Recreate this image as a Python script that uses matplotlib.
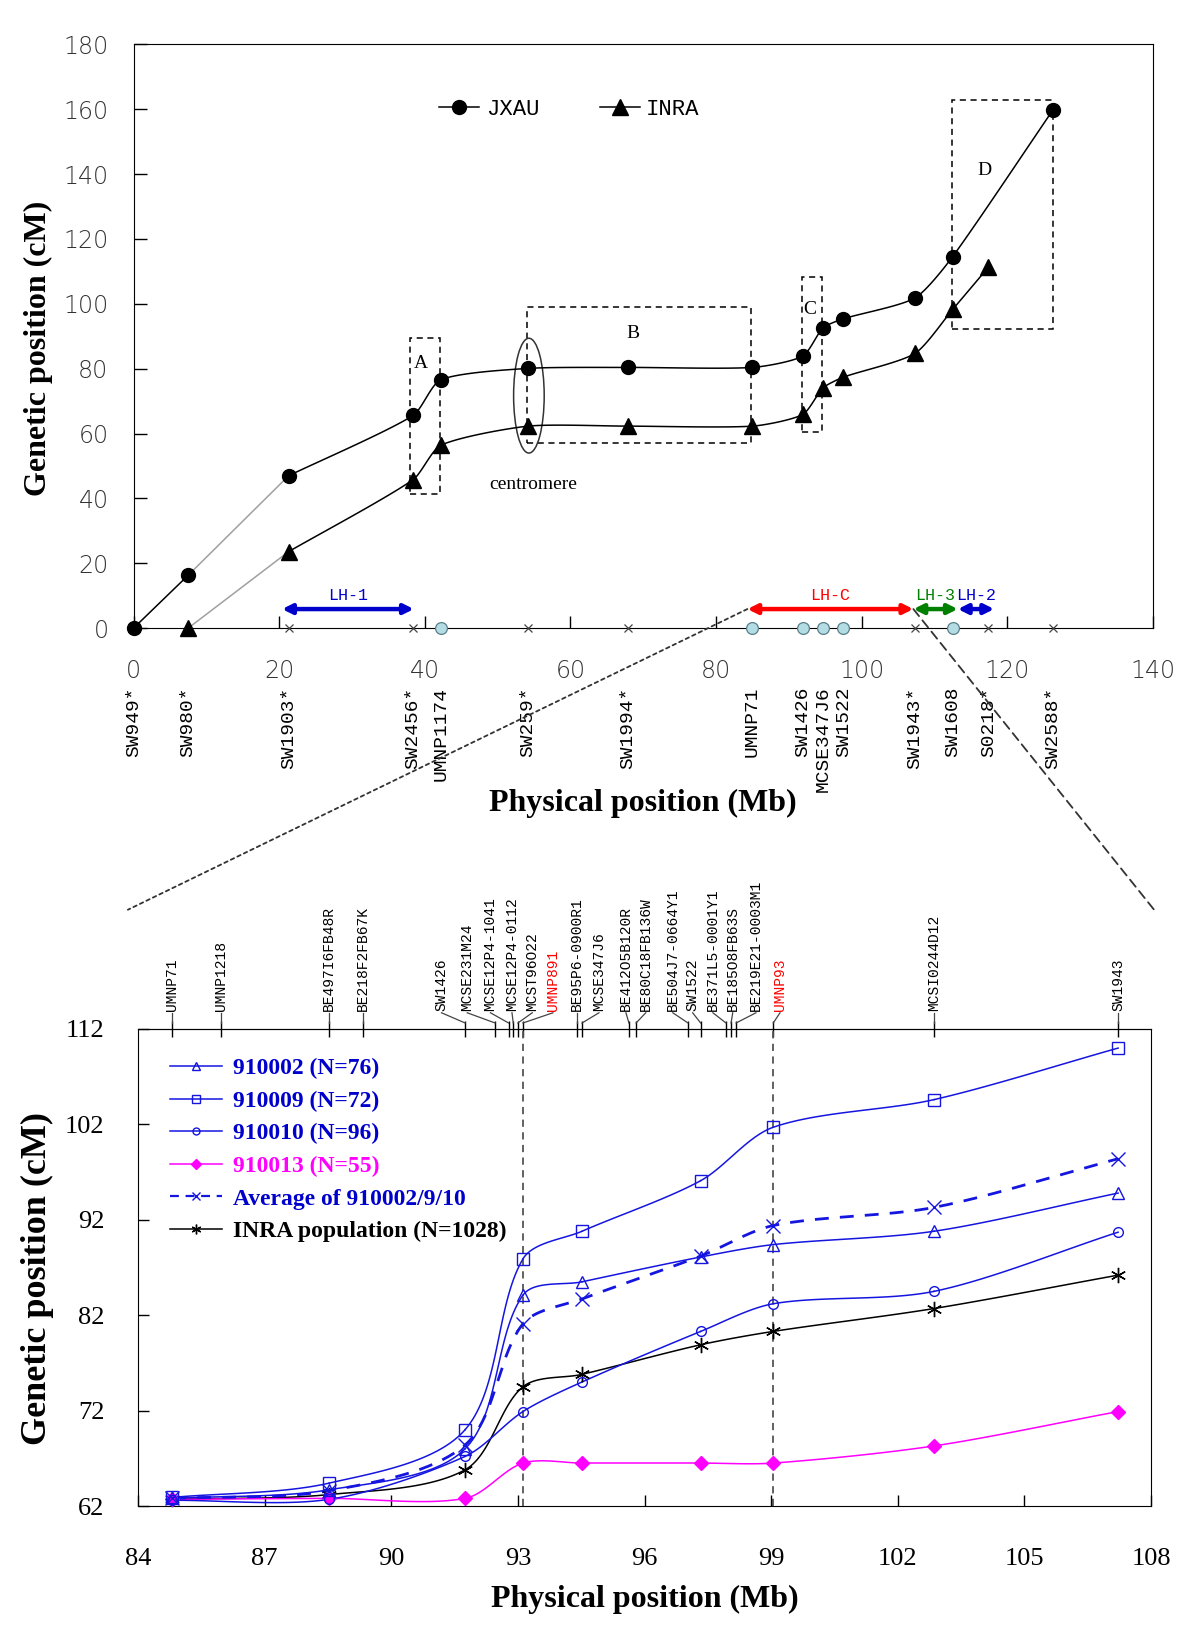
import numpy as np
import matplotlib
matplotlib.use("Agg")
import matplotlib.pyplot as plt
from matplotlib.patches import Rectangle, Ellipse, ConnectionPatch
from matplotlib.lines import Line2D
import matplotlib.transforms as mtransforms

# ------------------------- data: top chart -------------------------
top_markers = ["SW949*", "SW980*", "SW1903*", "SW2456*", "UMNP1174", "SW259*", "SW1994*",
               "UMNP71", "SW1426", "MCSE347J6", "SW1522", "SW1943*", "SW1608", "S0218*", "SW2588*"]
top_phys = [0.0, 7.5, 21.3, 38.4, 42.2, 54.2, 67.9, 85.0, 91.9, 94.7, 97.5, 107.3, 112.5, 117.4, 126.3]
jxau_cm = [0.0, 16.3, 47.0, 65.6, 76.6, 80.1, 80.4, 80.4, 83.9, 92.6, 95.4, 101.8, 114.6, None, 159.9]
inra_cm = [None, 0.0, 23.6, 45.8, 56.4, 62.3, 62.3, 62.3, 65.9, 74.1, 77.4, 84.7, 98.3, 111.3, None]

boxes = {"A": (38.0, 41.4, 42.15, 89.5), "B": (54.07, 57.0, 84.76, 98.9),
         "C": (91.77, 60.6, 94.58, 108.3), "D": (112.4, 92.2, 126.3, 163.0)}
box_labels = {"A": (39.5, 81.6), "B": (68.6, 90.9), "C": (92.8, 98.3), "D": (116.8, 141.0)}

lh_names = ["LH-1", "LH-C", "LH-3", "LH-2"]
lh_start = [20.4, 84.3, 107.1, 113.2]
lh_end = [38.5, 107.1, 113.2, 118.2]
lh_colors = ["#0000cc", "#ff0000", "#008000", "#0000cc"]

# ------------------------- data: bottom chart -------------------------
zoom_markers = ["UMNP71", "UMNP1218", "BE497I6FB48R", "BE218F2FB67K", "SW1426", "MCSE231M24",
                "MCSE12P4-1041", "MCSE12P4-0112", "MCST96O22", "UMNP891", "BE95P6-0900R1",
                "MCSE347J6", "BE412O5B120R", "BE80C18FB136W", "BE504J7-0664Y1", "SW1522",
                "BE371L5-0001Y1", "BE185O8FB63S", "BE219E21-0003M1", "UMNP93", "MCSI0244D12", "SW1943"]
zoom_phys = [84.81, 85.96, 88.53, 89.32, 91.75, 92.46, 92.78, 92.89, 93.00, 93.12, 94.40, 94.52,
             95.63, 95.80, 97.03, 97.33, 97.93, 98.05, 98.17, 99.05, 102.86, 107.22]
zoom_label_x = [84.81, 85.96, 88.53, 89.32, 91.19, 91.80, 92.35, 92.86, 93.34, 93.83, 94.40, 94.92,
                95.56, 96.03, 96.67, 97.14, 97.62, 98.09, 98.64, 99.21, 102.86, 107.22]
red_markers = ["UMNP891", "UMNP93"]

pts_phys = [84.81, 88.53, 91.75, 93.12, 94.52, 97.33, 99.05, 102.86, 107.22]
s910002 = [62.8, 63.7, 68.0, 84.1, 85.5, 88.1, 89.4, 90.8, 94.8]
s910009 = [62.9, 64.4, 70.0, 87.9, 90.8, 96.1, 101.7, 104.6, 110.0]
s910010 = [62.6, 62.7, 67.2, 71.9, 75.0, 80.3, 83.2, 84.5, 90.7]
s910013 = [62.7, 62.8, 62.8, 66.5, 66.5, 66.5, 66.5, 68.3, 71.9]
s_avg = [62.8, 63.6, 68.4, 81.1, 83.7, 88.2, 91.4, 93.3, 98.4]
s_inra = [62.7, 63.2, 65.8, 74.5, 75.8, 78.9, 80.3, 82.7, 86.2]
series_names = ["910002 (N=76)", "910009 (N=72)", "910010 (N=96)", "910013 (N=55)",
                "Average of 910002/9/10", "INRA population (N=1028)"]

top_xticks = [0, 20, 40, 60, 80, 100, 120, 140]
top_yticks = [0, 20, 40, 60, 80, 100, 120, 140, 160, 180]
bot_xticks = [84, 87, 90, 93, 96, 99, 102, 105, 108]
bot_yticks = [62, 72, 82, 92, 102, 112]


def smooth_segments(ax, xs, ys, tension, n=40):
    """Excel-like smoothing computed in screen space; returns one curve per segment."""
    P = ax.transData.transform(np.column_stack([xs, ys]).astype(float))
    inv = ax.transData.inverted()
    t = np.linspace(0, 1, n)[:, None]
    segs = []
    for i in range(len(P) - 1):
        p1, p2 = P[i], P[i + 1]
        L = np.hypot(*(p2 - p1))
        d1 = (P[i + 1] - P[i - 1]) if i > 0 else (p2 - p1)
        d2 = (P[i + 2] - P[i]) if i + 2 < len(P) else (p2 - p1)
        d1 = d1 / max(np.hypot(*d1), 1e-9)
        d2 = d2 / max(np.hypot(*d2), 1e-9)
        c1 = p1 + d1 * L * tension
        c2 = p2 - d2 * L * tension
        B = (1 - t) ** 3 * p1 + 3 * (1 - t) ** 2 * t * c1 + 3 * (1 - t) * t ** 2 * c2 + t ** 3 * p2
        segs.append(inv.transform(B))
    return segs


SERIF = ["Liberation Serif", "DejaVu Serif"]
MONO = ["Liberation Mono", "DejaVu Sans Mono"]

fig = plt.figure(figsize=(12, 16.25), dpi=100)
ax1 = fig.add_axes([0.11125, 0.61342, 0.84955, 0.35926])
ax2 = fig.add_axes([0.1150, 0.07323, 0.8442, 0.29354])

# =========================== TOP CHART ===========================
ax1.set_xlim(0, 140)
ax1.set_ylim(0, 180)

def plot_top(vals, marker, gray_segs, n_straight):
    xs = [p for p, v in zip(top_phys, vals) if v is not None]
    ys = [v for v in vals if v is not None]
    for i in range(n_straight):
        ax1.plot(xs[i:i + 2], ys[i:i + 2], color="#a0a0a0" if i in gray_segs else "black",
                 lw=1.1, zorder=3)
    segs = smooth_segments(ax1, xs[n_straight:], ys[n_straight:], 0.22)
    for s in segs:
        ax1.plot(s[:, 0], s[:, 1], color="black", lw=1.1, zorder=3)
    ax1.plot(xs, ys, ls="none", marker=marker, ms=10 if marker == "o" else 11, color="black",
             zorder=5, clip_on=False)

plot_top(jxau_cm, "o", {1}, 2)
plot_top(inra_cm, "^", {0}, 1)

# axis markers
for name, p in zip(top_markers, top_phys):
    if name in ("SW949*", "SW980*"):
        continue
    if name.endswith("*"):
        ax1.plot([p], [0], marker="x", ms=6, mew=0.9, color="#444444", ls="none", zorder=4, clip_on=False)
    else:
        ax1.plot([p], [0], marker="o", ms=8.5, mfc="#b4dce4", mec="#5a7f88", mew=0.9, ls="none",
                 zorder=4, clip_on=False)

# boxes
for k, (x0, y0, x1, y1) in boxes.items():
    ax1.add_patch(Rectangle((x0, y0), x1 - x0, y1 - y0, fill=False, ls=(0, (4, 3)), lw=1.1,
                            ec="black", zorder=2))
    ax1.text(*box_labels[k], k, fontsize=14, family=SERIF, ha="center", va="center")
ax1.add_patch(Ellipse((54.3, 71.7), 4.2, 35.4, fill=False, ec="#333333", lw=1.1, zorder=2))
ax1.text(54.9, 44.2, "centromere", fontsize=14, family=SERIF, ha="center", va="center")

# LH arrows
for nm, a, b, c in zip(lh_names, lh_start, lh_end, lh_colors):
    ax1.annotate("", xy=(b, 5.9), xytext=(a, 5.9),
                 arrowprops=dict(arrowstyle="<|-|>", color=c, lw=3.2, mutation_scale=14,
                                 shrinkA=0, shrinkB=0), zorder=6)
    ax1.text((a + b) / 2, 10.0, nm, color=c, fontsize=12, family=MONO, ha="center", va="center")

# ticks
ax1.set_xticks(top_xticks)
ax1.set_yticks(top_yticks)
ax1.set_xticklabels([str(v) for v in top_xticks])
ax1.set_yticklabels([str(v) for v in top_yticks])
ax1.tick_params(axis="both", direction="in", length=9, width=1.0, labelsize=17, colors="black")
ax1.tick_params(axis="x", pad=22)
ax1.tick_params(axis="y", pad=18)
for lab in ax1.get_xticklabels() + ax1.get_yticklabels():
    lab.set_fontfamily("DejaVu Sans")
    lab.set_fontweight("light")
    lab.set_color("#333333")

# marker name labels
trans1 = mtransforms.blended_transform_factory(ax1.transData, ax1.transAxes)
for name, p in zip(top_markers, top_phys):
    ax1.text(p, -0.100, name, rotation=90, ha="center", va="top", fontsize=14, family=MONO,
             transform=trans1)

ax1.text(0.5, -0.301, "Physical position (Mb)", transform=ax1.transAxes, ha="center", va="center",
         fontsize=23, fontweight="bold", family=SERIF)
ax1.text(-0.0937, 0.480, "Genetic position (cM)", transform=ax1.transAxes, ha="center", va="center",
         rotation=90, fontsize=23, fontweight="bold", family=SERIF)

# legend top
h_j = Line2D([], [], color="black", lw=1.1, marker="o", ms=10)
h_i = Line2D([], [], color="black", lw=1.1, marker="^", ms=11)
ax1.legend([h_j, h_i], ["JXAU", "INRA"], ncol=2, loc="center left",
           bbox_to_anchor=(0.300, 0.889), frameon=False, borderpad=0, borderaxespad=0,
           handlelength=1.8, handletextpad=0.3, columnspacing=2.7,
           prop={"family": MONO, "size": 16})

# =========================== BOTTOM CHART ===========================
ax2.set_xlim(84, 108)
ax2.set_ylim(62, 112)
BLUE = "#1515e0"

for name, p in zip(zoom_markers, zoom_phys):
    if name in red_markers:
        ax2.axvline(p, color="#555555", lw=1.3, ls=(0, (4, 3)), zorder=1)

def plot_bot(vals, color, marker, ms, lw=1.1, mfc="none", mew=1.0):
    segs = smooth_segments(ax2, pts_phys, vals, 0.3)
    for s in segs:
        ax2.plot(s[:, 0], s[:, 1], color=color, lw=lw, zorder=3)
    ax2.plot(pts_phys, vals, ls="none", marker=marker, ms=ms, mfc=mfc, mec=color, mew=mew,
             zorder=4, clip_on=False)

ast = (6, 2, 0)
plot_bot(s_inra, "black", ast, 11)
plot_bot(s910013, "#ff00ff", "D", 7, mfc="#ff00ff")
plot_bot(s910010, BLUE, "o", 7)
plot_bot(s910002, BLUE, "^", 8)
plot_bot(s910009, BLUE, "s", 8)
whole = np.vstack(smooth_segments(ax2, pts_phys, s_avg, 0.3))
ax2.plot(whole[:, 0], whole[:, 1], color=BLUE, lw=2.0, ls=(0, (5, 4)), zorder=3)
ax2.plot(pts_phys, s_avg, ls="none", marker="x", ms=10, mec=BLUE, mew=1.0, zorder=4)

ax2.set_xticks(bot_xticks)
ax2.set_yticks(bot_yticks)
ax2.set_xticklabels([str(v) for v in bot_xticks])
ax2.set_yticklabels([str(v) for v in bot_yticks])
ax2.tick_params(axis="both", direction="in", length=8, width=1.0, labelsize=19)
ax2.tick_params(axis="x", pad=30)
ax2.tick_params(axis="y", pad=24)
for lab in ax2.get_xticklabels() + ax2.get_yticklabels():
    lab.set_fontfamily(SERIF)

sec = ax2.secondary_xaxis("top")
sec.set_xticks(zoom_phys)
sec.set_xticklabels([])
sec.tick_params(direction="inout", length=12, width=1.0)

trans2 = mtransforms.blended_transform_factory(ax2.transData, ax2.transAxes)
for name, p, lx in zip(zoom_markers, zoom_phys, zoom_label_x):
    col = "red" if name in red_markers else "black"
    ax2.plot([lx, p], [1.034, 1.0126], color="#444444", lw=0.9, transform=trans2, clip_on=False)
    ax2.text(lx, 1.037, name, rotation=90, ha="center", va="bottom", fontsize=10.5, family=MONO,
             color=col, transform=trans2)

ax2.text(0.5, -0.195, "Physical position (Mb)", transform=ax2.transAxes, ha="center", va="center",
         fontsize=23, fontweight="bold", family=SERIF)
ax2.text(-0.099, 0.476, "Genetic position (cM)", transform=ax2.transAxes, ha="center", va="center",
         rotation=90, fontsize=26, fontweight="bold", family=SERIF)

handles = [
    Line2D([], [], color=BLUE, lw=1.1, marker="^", ms=6, mfc="none", mec=BLUE),
    Line2D([], [], color=BLUE, lw=1.1, marker="s", ms=6, mfc="none", mec=BLUE),
    Line2D([], [], color=BLUE, lw=1.1, marker="o", ms=5, mfc="none", mec=BLUE),
    Line2D([], [], color="#ff00ff", lw=1.1, marker="D", ms=5, mfc="#ff00ff", mec="#ff00ff"),
    Line2D([], [], color=BLUE, lw=1.6, ls=(0, (4, 3)), marker="x", ms=6, mec=BLUE),
    Line2D([], [], color="black", lw=1.1, marker=ast, ms=7, mec="black"),
]
leg2 = ax2.legend(handles, series_names, loc="upper left", bbox_to_anchor=(0.032, 0.94),
                  frameon=False, borderpad=0, borderaxespad=0, handlelength=2.2,
                  handletextpad=0.45, labelspacing=0.47,
                  prop={"family": SERIF, "size": 17, "weight": "bold"})
for txt, c in zip(leg2.get_texts(), ["#0000cc", "#0000cc", "#0000cc", "#ff00ff", "#0000cc", "black"]):
    txt.set_color(c)

# connecting dashed lines
con1 = ConnectionPatch(xyA=(84.3, 5.9), coordsA=ax1.transData, xyB=(-0.01, 1.25),
                       coordsB=ax2.transAxes, color="#333333", lw=1.3, ls=(0, (2, 2)))
con2 = ConnectionPatch(xyA=(107.1, 5.9), coordsA=ax1.transData, xyB=(1.003, 1.25),
                       coordsB=ax2.transAxes, color="#333333", lw=1.3, ls=(0, (5, 3)))
fig.add_artist(con1)
fig.add_artist(con2)

fig.savefig("out.png", dpi=100)
